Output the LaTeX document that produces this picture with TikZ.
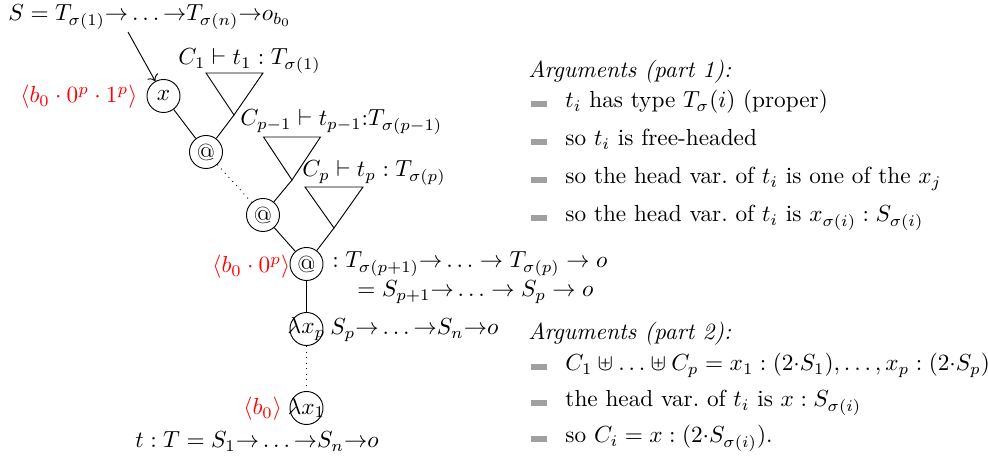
\documentclass[tikz,border=0pt]{standalone}
\usepackage{amsmath,amssymb}
\usetikzlibrary{arrows.meta}
\definecolor{bulletgray}{RGB}{160,160,160}
\begin{document}
\begin{tikzpicture}[x=0.43pt,y=-0.43pt,
  vnode/.style={draw, circle, minimum size=14.2pt, inner sep=0pt},
  txt/.style={anchor=base west, inner sep=0pt},
  redlbl/.style={txt, text=red},
  bulletbox/.style={fill=bulletgray, draw=none},
  edge/.style={draw},
  dotedge/.style={draw, dotted},
  tri/.style={draw, line join=miter}]
\useasboundingbox (0,0) rectangle (988,468);

% tree nodes
\node[vnode] (x)  at (163.5,96) {$x$};
\node[vnode] (a1) at (206,152) {@};
\node[vnode] (a2) at (263,215) {@};
\node[vnode] (a3) at (306.5,264) {@};
\node[vnode] (lp) at (306.5,329) {\makebox[0pt]{$\lambda x_p$}};
\node[vnode] (l1) at (306.5,408) {\makebox[0pt]{$\lambda x_1$}};

% triangle apexes
\coordinate (t1) at (234,115);
\coordinate (t2) at (292,180);
\coordinate (t3) at (334,228);
\draw[tri] (t1) -- ++(-28,-42) -- ++(57,0) -- cycle;
\draw[tri] (t2) -- ++(-28.5,-43) -- ++(57,0) -- cycle;
\draw[tri] (t3) -- ++(-29,-41) -- ++(58,0) -- cycle;

% connectors
\path[edge] (x) -- (a1);
\path[edge] (a1) -- (t1);
\path[dotedge] (a1) -- (a2);
\path[edge] (a2) -- (t2);
\path[edge] (a2) -- (a3);
\path[edge] (a3) -- (t3);
\path[edge] (a3) -- (lp);
\path[dotedge] (lp) -- (l1);

% top text and arrow
\node[txt] (S) at (8,21) {$S = T_{\sigma(1)}{\to}\ldots{\to}T_{\sigma(n)}{\to}o_{b_0}$};
\coordinate (sfoot) at (128,32);
\draw[->] (sfoot) -- (x);

% labels
\node[txt] (c1) at (178,65) {$C_1 \vdash t_1 : T_{\sigma(1)}$};
\node[txt] (c2) at (240,126) {$C_{p-1} \vdash t_{p-1}{:}T_{\sigma(p-1)}$};
\node[txt] (c3) at (302,177) {$C_p \vdash t_p : T_{\sigma(p)}$};
\node[txt] (ty1) at (332,268) {$: T_{\sigma(p+1)}{\to}\ldots \to T_{\sigma(p)} \to o$};
\node[txt] (ty2) at (357,297) {$= S_{p+1}{\to}\ldots \to S_p \to o$};
\node[txt] (ty3) at (330,335) {$S_p{\to}\ldots{\to}S_n{\to}o$};
\node[txt] (tt) at (135,448) {$t : T = S_1{\to}\ldots{\to}S_n{\to}o$};

% red labels
\node[redlbl] (r1) at (20,103) {$\langle b_0\cdot 0^p\cdot 1^p\rangle$};
\node[redlbl] (r2) at (212,273) {$\langle b_0\cdot 0^p\rangle$};
\node[redlbl] (r3) at (243,415) {$\langle b_0\rangle$};

% arguments part 1
\node[txt] (h1) at (528,78) {\textit{Arguments (part 1):}};
\foreach \yy in {108,146,184,222} {\fill[bulletbox] (531,\yy-6.5) rectangle (547,\yy-1);}
\node[txt] (p1a) at (565,108) {$t_i$ has type $T_\sigma(i)$ (proper)};
\node[txt] (p1b) at (565,146) {so $t_i$ is free-headed};
\node[txt] (p1c) at (565,184) {so the head var.\ of $t_i$ is one of the $x_j$};
\node[txt] (p1d) at (565,222) {so the head var.\ of $t_i$ is $x_{\sigma(i)} : S_{\sigma(i)}$};

% arguments part 2
\node[txt] (h2) at (528,340) {\textit{Arguments (part 2):}};
\foreach \yy in {371,407,443} {\fill[bulletbox] (531,\yy-6.5) rectangle (547,\yy-1);}
\node[txt] (p2a) at (565,371) {$C_1 \uplus \ldots \uplus C_p = x_1 : (2{\cdot}S_1), \ldots, x_p : (2{\cdot}S_p)$};
\node[txt] (p2b) at (565,407) {the head var.\ of $t_i$ is $x : S_{\sigma(i)}$};
\node[txt] (p2c) at (565,443) {so $C_i = x : (2{\cdot}S_{\sigma(i)})$.};
\end{tikzpicture}
\end{document}
